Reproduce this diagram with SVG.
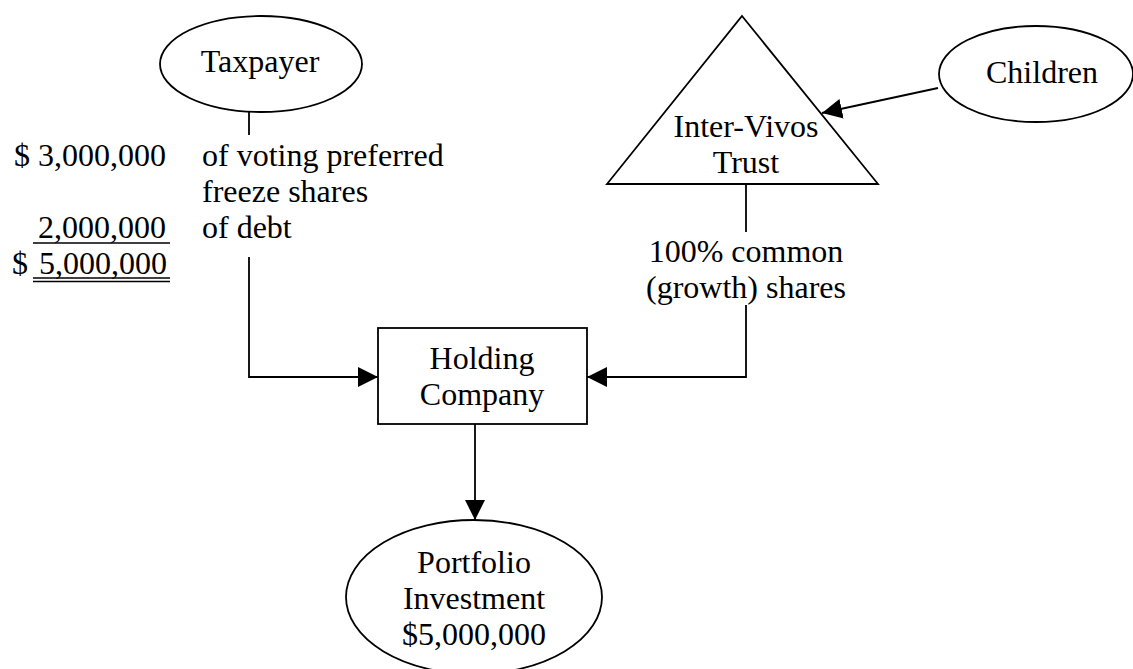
<svg xmlns="http://www.w3.org/2000/svg" width="1133" height="669" viewBox="0 0 1133 669">
<style>
.shape{fill:#fff;stroke:#000;stroke-width:1.8}
.ln{fill:none;stroke:#000;stroke-width:1.8}
text{font-family:"Liberation Serif","Times New Roman",serif;font-size:32px;fill:#000}
.c{text-anchor:middle}
.e{text-anchor:end}
.ul{stroke:#000;stroke-width:1.6}
</style>
<defs>
<marker id="ah" viewBox="0 0 20 20" refX="20" refY="10" markerWidth="20" markerHeight="20" markerUnits="userSpaceOnUse" orient="auto">
<path d="M0,0 L20,10 L0,20 z" fill="#000"/>
</marker>
</defs>
<rect width="1133" height="669" fill="#fff"/>
<g id="connectors">
<line class="ln" x1="249" y1="112" x2="249" y2="135"/>
<polyline class="ln" points="249,257 249,377 378,377" marker-end="url(#ah)"/>
<line class="ln" x1="746" y1="184" x2="746" y2="232"/>
<polyline class="ln" points="746,305 746,377 587,377" marker-end="url(#ah)"/>
<line class="ln" x1="475" y1="424" x2="475" y2="520" marker-end="url(#ah)"/>
<line class="ln" x1="938" y1="88" x2="822" y2="113" marker-end="url(#ah)"/>
</g>
<g id="taxpayer">
<ellipse class="shape" cx="261" cy="64" rx="101" ry="48"/>
<text class="c" x="260" y="72">Taxpayer</text>
</g>
<g id="trust">
<polygon class="shape" points="742,16 878,184 607,184"/>
<text class="c" x="746" y="137">Inter-Vivos</text>
<text class="c" x="746" y="173">Trust</text>
</g>
<g id="children">
<ellipse class="shape" cx="1036" cy="74" rx="97" ry="48"/>
<text class="c" x="1042" y="83">Children</text>
</g>
<g id="holding">
<rect class="shape" x="378" y="328" width="209" height="96"/>
<text class="c" x="482" y="369">Holding</text>
<text class="c" x="482" y="405">Company</text>
</g>
<g id="portfolio">
<ellipse class="shape" cx="474" cy="597" rx="128" ry="77"/>
<text class="c" x="474" y="573">Portfolio</text>
<text class="c" x="474" y="609">Investment</text>
<text class="c" x="474" y="645">$5,000,000</text>
</g>
<g id="taxpayer-label">
<text class="e" x="166" y="166">$ 3,000,000</text>
<text x="202" y="166">of voting preferred</text>
<text x="202" y="202">freeze shares</text>
<text class="e" x="166" y="238">2,000,000</text>
<line class="ul" x1="33" y1="243" x2="170" y2="243"/>
<text x="202" y="238">of debt</text>
<text x="12" y="274">$</text>
<text class="e" x="167" y="274">5,000,000</text>
<line class="ul" x1="33" y1="278" x2="170" y2="278"/>
<line class="ul" x1="33" y1="281.5" x2="170" y2="281.5"/>
</g>
<g id="trust-label">
<text class="c" x="746" y="262">100% common</text>
<text class="c" x="746" y="298">(growth) shares</text>
</g>
</svg>
